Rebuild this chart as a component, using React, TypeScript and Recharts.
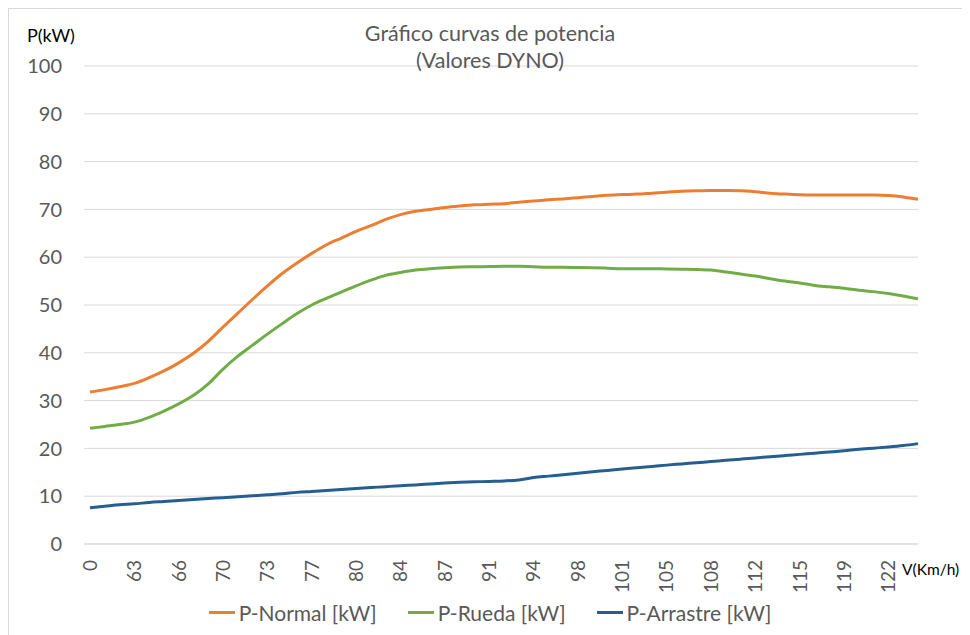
import React from 'react';
import { LineChart, Line, XAxis, YAxis, CartesianGrid } from 'recharts';

// velocidad (km/h) – one entry per sample, every third one is labelled
const speeds = [
  '0', '61', '62', '63', '64', '65', '66', '68', '69', '70', '71', '72', '73', '75', '76',
  '77', '78', '79', '80', '82', '83', '84', '85', '86', '87', '89', '90', '91', '92', '93',
  '94', '96', '97', '98', '99', '100', '101', '103', '104', '105', '106', '107', '108', '110',
  '111', '112', '113', '114', '115', '117', '118', '119', '120', '121', '122', '124', '125',
];

const pNormal = [
  31.8, 32.3, 32.9, 33.6, 34.8, 36.2, 37.9, 39.9, 42.4, 45.4, 48.3, 51.2, 54.0, 56.6, 58.8,
  60.8, 62.6, 64.0, 65.4, 66.6, 67.9, 68.9, 69.6, 70.0, 70.4, 70.7, 70.95, 71.1, 71.2, 71.5,
  71.75, 72.0, 72.2, 72.45, 72.7, 72.95, 73.1, 73.2, 73.4, 73.6, 73.8, 73.9, 73.95, 73.95,
  73.9, 73.7, 73.4, 73.2, 73.05, 73.0, 73.0, 73.0, 73.0, 73.0, 72.9, 72.6, 72.1,
];

const pRueda = [
  24.2, 24.6, 25.0, 25.5, 26.5, 27.8, 29.3, 31.1, 33.5, 36.6, 39.3, 41.6, 43.9, 46.1, 48.2,
  50.0, 51.4, 52.7, 54.0, 55.2, 56.2, 56.8, 57.3, 57.6, 57.8, 57.95, 58.0, 58.05, 58.1, 58.1,
  58.0, 57.9, 57.9, 57.85, 57.8, 57.7, 57.6, 57.6, 57.6, 57.55, 57.5, 57.45, 57.3, 56.9,
  56.5, 56.05, 55.5, 55.0, 54.6, 54.1, 53.8, 53.5, 53.1, 52.8, 52.4, 51.9, 51.3,
];

const pArrastre = [
  7.6, 7.9, 8.2, 8.4, 8.7, 8.9, 9.1, 9.3, 9.5, 9.7, 9.9, 10.1, 10.3, 10.5, 10.8,
  11.0, 11.2, 11.4, 11.6, 11.8, 12.0, 12.2, 12.35, 12.55, 12.75, 12.9, 13.0, 13.1, 13.2, 13.4,
  13.9, 14.2, 14.5, 14.8, 15.1, 15.4, 15.7, 15.95, 16.2, 16.5, 16.75, 17.0, 17.25, 17.5,
  17.75, 18.0, 18.25, 18.5, 18.75, 19.0, 19.25, 19.5, 19.8, 20.05, 20.3, 20.6, 21.0,
];

const yTicks = [0, 10, 20, 30, 40, 50, 60, 70, 80, 90, 100];

const series = [
  { key: 'normal', name: 'P-Normal [kW]', color: '#ED7D31' },
  { key: 'rueda', name: 'P-Rueda [kW]', color: '#70AD47' },
  { key: 'arrastre', name: 'P-Arrastre [kW]', color: '#255E91' },
];

const data = speeds.map((v, i) => ({
  v,
  normal: pNormal[i],
  rueda: pRueda[i],
  arrastre: pArrastre[i],
}));

const FONT = 'Lato, "Noto Sans", sans-serif';
const GREY = '#595959';

// rotated category label, reads bottom to top
const XTick = (props: any) => {
  const { x, y, payload } = props;
  return (
    <text
      x={x}
      y={y}
      dy="0.36em"
      transform={`rotate(-90, ${x}, ${y})`}
      textAnchor="end"
      fill={GREY}
      fontSize={19}
      fontFamily={FONT}
    >
      {payload.value}
    </text>
  );
};

const App: React.FC = () => {
  return (
    <div
      style={{
        position: 'relative',
        width: 962,
        height: 627,
        boxSizing: 'border-box',
        borderTop: '1px solid #d9d9d9',
        borderLeft: '1px solid #d9d9d9',
        fontFamily: FONT,
        background: '#fff',
      }}
    >
      <LineChart width={961} height={626} data={data} margin={{ top: 57, right: 52, left: 0, bottom: 31 }}>
        <CartesianGrid vertical={false} stroke="#d9d9d9" />
        <XAxis
          dataKey="v"
          interval={2}
          tickLine={false}
          tickMargin={10}
          axisLine={{ stroke: '#d9d9d9' }}
          padding={{ left: 6, right: 0 }}
          height={60}
          tick={<XTick />}
        />
        <YAxis
          domain={[0, 100]}
          ticks={yTicks}
          width={75}
          tickLine={false}
          axisLine={false}
          tickMargin={16}
          tick={{ fill: GREY, fontSize: 20, fontFamily: FONT }}
        />
        {series.map(s => (
          <Line
            key={s.key}
            dataKey={s.key}
            name={s.name}
            stroke={s.color}
            strokeWidth={3}
            type="monotone"
            dot={false}
            isAnimationActive={false}
          />
        ))}
      </LineChart>

      <div
        style={{
          position: 'absolute',
          top: 11,
          left: 0,
          width: 962,
          textAlign: 'center',
          color: GREY,
          fontSize: 21.5,
          lineHeight: '27px',
        }}
      >
        Gráfico curvas de potencia
        <br />
        (Valores DYNO)
      </div>

      <div style={{ position: 'absolute', top: 15, left: 18, fontSize: 18, color: '#000', whiteSpace: 'nowrap' }}>
        P(kW)
      </div>
      <div style={{ position: 'absolute', top: 551, left: 893, fontSize: 15.5, color: '#000', whiteSpace: 'nowrap' }}>
        V(Km/h)
      </div>

      <div
        style={{
          position: 'absolute',
          top: 591,
          left: 0,
          width: 962,
          height: 24,
          display: 'flex',
          justifyContent: 'center',
          alignItems: 'center',
          gap: 31,
          color: GREY,
          fontSize: 21,
        }}
      >
        {series.map(s => (
          <div key={s.key} style={{ display: 'flex', alignItems: 'center', whiteSpace: 'nowrap' }}>
            <span style={{ display: 'inline-block', width: 26, height: 3, background: s.color, marginRight: 4 }} />
            {s.name}
          </div>
        ))}
      </div>
    </div>
  );
};

export default App;
